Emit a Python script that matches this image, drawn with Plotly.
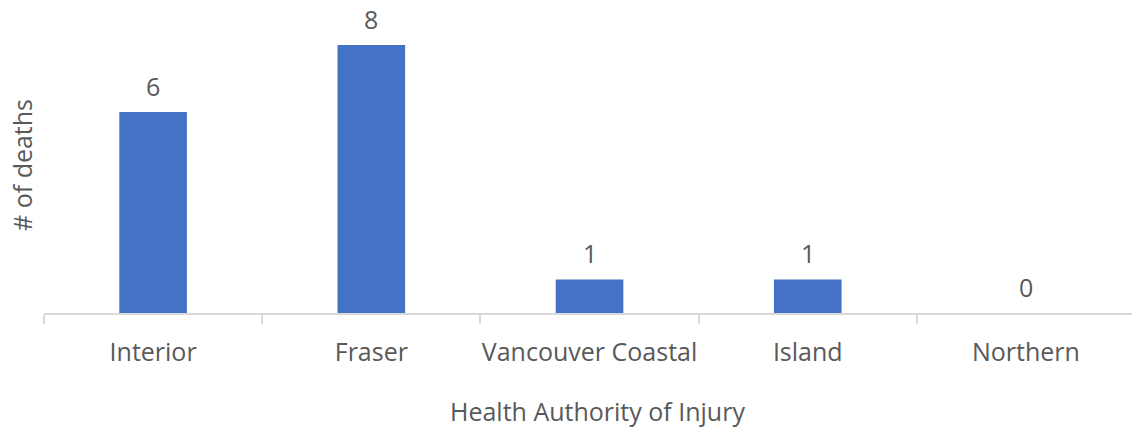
import plotly.graph_objects as go

categories = ["Interior", "Fraser", "Vancouver Coastal", "Island", "Northern"]
deaths = [6, 8, 1, 1, 0]
x_title = "Health Authority of Injury"
y_title = "# of deaths"

FONT = "Open Sans"
FS = 25
TXT = "#595959"
BAR = "#4472C4"
AX = "#D9D9D9"

fig = go.Figure()
fig.add_trace(go.Bar(x=categories, y=deaths, marker=dict(color=BAR, line=dict(width=0)),
                     width=0.31, hoverinfo="skip"))

for c, v in zip(categories, deaths):
    fig.add_annotation(x=c, y=v, text=str(v), showarrow=False, yanchor="bottom",
                       yshift=7, font=dict(family=FONT, size=FS, color=TXT))

# axis titles
fig.add_annotation(xref="paper", yref="paper", x=0.509, y=0, yshift=-98,
                   xanchor="center", yanchor="middle", text=x_title, showarrow=False,
                   font=dict(family=FONT, size=FS, color=TXT))
fig.add_annotation(xref="paper", yref="paper", x=0, xshift=-22, y=0.473,
                   xanchor="center", yanchor="middle", text=y_title, textangle=-90,
                   showarrow=False, font=dict(family=FONT, size=FS, color=TXT))

fig.update_layout(
    width=1132, height=431,
    margin=dict(l=44, r=0, t=0, b=118),
    paper_bgcolor="white", plot_bgcolor="white",
    showlegend=False,
    font=dict(family=FONT, size=FS, color=TXT),
    xaxis=dict(
        range=[-0.5, 4.486], automargin=False, tickangle=0,
        showline=True, linecolor=AX, linewidth=1.5,
        ticks="outside", tickson="boundaries", ticklen=9, tickcolor=AX, tickwidth=1.5,
        tickfont=dict(family=FONT, size=FS, color=TXT),
        ticklabelstandoff=16,
        showgrid=False, zeroline=False,
    ),
    yaxis=dict(
        range=[0, 9.34], automargin=False,
        showticklabels=False, showgrid=False, zeroline=False, showline=False,
    ),
)

fig.write_html("out.html", config={"displayModeBar": False},
               post_script="document.body.style.margin='0';")
